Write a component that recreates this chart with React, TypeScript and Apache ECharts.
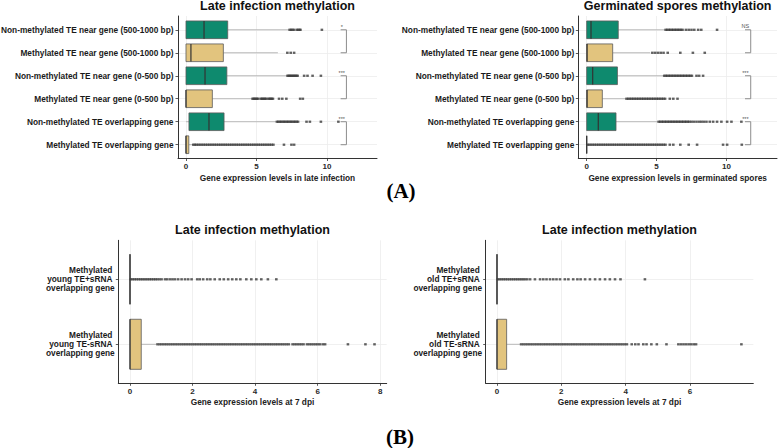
import React, { useEffect, useRef } from "react";
import * as echarts from "echarts";

// ---------------- data ----------------
const lateCategories = [
  "Non-methylated TE near gene (500-1000 bp)",
  "Methylated TE near gene (500-1000 bp)",
  "Non-methylated TE near gene (0-500 bp)",
  "Methylated TE near gene (0-500 bp)",
  "Non-methylated TE overlapping gene",
  "Methylated TE overlapping gene",
];
const sporeCategories = [
  "Non-methylated TE near gene (500-1000 bp)",
  "Methylated TE near gene (500-1000 bp)",
  "Non-methylated TE near gene (0-500 bp)",
  "Methylated TE near gene (0-500 bp)",
  "Non-methylated TE overlapping gene",
  "Methylated TE overlapping gene",
];
const youngCategories = [
  "Methylated\u00a0\nyoung TE+sRNA\u00a0\noverlapping gene",
  "Methylated\u00a0\nyoung TE-sRNA\u00a0\noverlapping gene",
];
const oldCategories = [
  "Methylated\u00a0\nold TE+sRNA\u00a0\noverlapping gene",
  "Methylated\u00a0\nold TE-sRNA\u00a0\noverlapping gene",
];

// box statistics: [q1, median, q3, lower whisker, upper whisker]
const lateStats = [
  [0, 1.28, 2.96, 0, 7.3],
  [0, 0.35, 2.65, 0, 6.52],
  [0, 1.35, 2.9, 0, 7.15],
  [0, 0, 1.87, 0, 4.66],
  [0.21, 1.63, 2.7, 0, 6.43],
  [0, 0, 0.2, 0, 0.5],
];
const sporeStats = [
  [0, 0.31, 2.26, 0, 5.6],
  [0, 0.03, 1.86, 0, 4.55],
  [0, 0.43, 2.2, 0, 5.5],
  [0, 0.03, 1.12, 0, 2.8],
  [0, 0.83, 2.1, 0, 5.1],
  [0, 0, 0, 0, 0],
];
const youngStats = [
  [0, 0, 0, 0, 0],
  [0, 0, 0.36, 0, 0.85],
];
const oldStats = [
  [0, 0, 0, 0, 0],
  [0, 0, 0.3, 0, 0.72],
];

// outliers per row
const lateOutliers = [
  [7.35, 7.45, 7.55, 7.65, 7.85, 7.95, 8.05, 8.12, 9.64],
  [7.19, 7.43, 7.67],
  [7.2, 7.28, 7.36, 7.44, 7.52, 7.6, 7.68, 7.76, 7.84, 7.92, 8.38, 8.62, 8.98, 9.57],
  [4.72, 4.8, 4.88, 4.96, 5.04, 5.12, 5.3, 5.38, 5.46, 5.54, 5.62, 5.7, 5.85, 5.93, 6.01, 6.09, 6.17, 6.6, 6.83, 7.12, 8.1, 8.29],
  [6.45, 6.55, 6.65, 6.75, 6.85, 6.95, 7.05, 7.15, 7.25, 7.35, 7.45, 7.55, 7.65, 7.75, 7.85, 7.95, 8.55, 8.79, 9.57, 10.81],
  [0.52, 0.63, 0.74, 0.87, 1.0, 1.13, 1.26, 1.39, 1.52, 1.65, 1.78, 1.91, 2.04, 2.17, 2.3, 2.43, 2.56, 2.69, 2.82, 2.95, 3.08, 3.21, 3.34, 3.47, 3.6, 3.73, 3.86, 3.99, 4.12, 4.25, 4.38, 4.51, 4.64, 4.77, 4.9, 5.03, 5.16, 5.29, 5.42, 5.55, 5.68, 5.81, 5.94, 6.07, 6.2, 6.95, 7.48, 7.67],
];
const sporeOutliers = [
  [5.65, 5.76, 5.87, 5.98, 6.09, 6.2, 6.31, 6.42, 6.53, 6.64, 6.75, 6.86, 7.1, 7.3, 7.5, 7.7, 7.98, 8.2, 9.33],
  [4.7, 4.9, 5.1, 5.3, 5.5, 5.8, 6.7, 7.6, 8.45],
  [5.55, 5.66, 5.77, 5.88, 5.99, 6.1, 6.21, 6.32, 6.43, 6.54, 6.65, 6.76, 6.87, 6.98, 7.09, 7.2, 7.31, 7.42, 7.53, 7.86, 8.05, 8.33],
  [2.85, 2.97, 3.09, 3.21, 3.33, 3.45, 3.57, 3.69, 3.81, 3.93, 4.05, 4.17, 4.29, 4.41, 4.53, 4.65, 4.77, 4.89, 5.01, 5.13, 5.25, 5.37, 5.49, 5.61, 5.95, 6.2, 6.5],
  [5.15, 5.26, 5.37, 5.48, 5.59, 5.7, 5.81, 5.92, 6.03, 6.14, 6.25, 6.36, 6.47, 6.58, 6.69, 6.8, 6.91, 7.02, 7.13, 7.24, 7.35, 7.5, 7.67, 7.86, 8.05, 8.21, 8.38, 8.57, 8.81, 9.05, 9.33, 9.64, 10.05, 10.36, 11.07],
  [0.05, 0.18, 0.31, 0.44, 0.57, 0.7, 0.83, 0.96, 1.09, 1.22, 1.35, 1.48, 1.61, 1.74, 1.87, 2.0, 2.13, 2.26, 2.39, 2.52, 2.65, 2.78, 2.91, 3.04, 3.17, 3.3, 3.43, 3.56, 3.69, 3.82, 3.95, 4.08, 4.21, 4.34, 4.47, 4.6, 4.73, 4.86, 4.99, 5.12, 5.25, 5.38, 5.51, 5.64, 5.95, 6.2, 6.7, 7.3, 7.9, 9.76, 10.05, 11.1],
];
const youngOutliers = [
  [0.03, 0.09, 0.15, 0.21, 0.27, 0.33, 0.39, 0.45, 0.51, 0.57, 0.63, 0.69, 0.75, 0.81, 0.87, 0.94, 1.01, 1.12, 1.19, 1.28, 1.36, 1.44, 1.54, 1.65, 1.76, 1.86, 1.97, 2.15, 2.23, 2.34, 2.47, 2.57, 2.71, 2.87, 3.0, 3.14, 3.27, 3.4, 3.53, 3.72, 3.88, 4.04, 4.2, 4.41, 4.68],
  [0.88, 0.95, 1.02, 1.09, 1.16, 1.23, 1.3, 1.37, 1.44, 1.51, 1.58, 1.65, 1.72, 1.79, 1.86, 1.93, 2.0, 2.07, 2.14, 2.21, 2.28, 2.35, 2.42, 2.49, 2.56, 2.63, 2.7, 2.77, 2.84, 2.91, 2.98, 3.05, 3.12, 3.19, 3.26, 3.33, 3.4, 3.47, 3.54, 3.61, 3.68, 3.75, 3.82, 3.89, 3.96, 4.03, 4.1, 4.17, 4.24, 4.31, 4.38, 4.45, 4.52, 4.59, 4.66, 4.73, 4.8, 4.87, 4.94, 5.01, 5.08, 5.2, 5.27, 5.34, 5.41, 5.48, 5.55, 5.66, 5.73, 5.8, 5.87, 5.94, 6.01, 6.08, 6.17, 6.24, 6.97, 7.53, 7.82],
];
const oldOutliers = [
  [0.03, 0.09, 0.15, 0.21, 0.27, 0.33, 0.39, 0.45, 0.51, 0.57, 0.63, 0.69, 0.75, 0.81, 0.87, 0.94, 1.03, 1.18, 1.34, 1.44, 1.54, 1.65, 1.75, 1.85, 1.96, 2.11, 2.22, 2.37, 2.5, 2.6, 2.74, 2.89, 3.05, 3.2, 3.36, 3.51, 3.67, 3.84, 4.6],
  [0.75, 0.82, 0.89, 0.96, 1.03, 1.1, 1.17, 1.24, 1.31, 1.38, 1.45, 1.52, 1.59, 1.66, 1.73, 1.8, 1.87, 1.94, 2.01, 2.08, 2.15, 2.22, 2.29, 2.36, 2.43, 2.5, 2.57, 2.64, 2.71, 2.78, 2.85, 2.92, 2.99, 3.06, 3.13, 3.2, 3.27, 3.34, 3.41, 3.48, 3.55, 3.62, 3.69, 3.76, 3.83, 3.9, 3.97, 4.04, 4.19, 4.3, 4.4, 4.55, 4.65, 4.8, 4.97, 5.27, 5.64, 5.72, 5.8, 5.88, 5.96, 6.04, 6.12, 6.19, 7.6],
];

// significance brackets: [rowA, rowB] pairs and labels
const latePairs = [[0, 1], [2, 3], [4, 5]];
const lateSigLabels = ["*", "***", "***"];
const lateBracketX = [10.97, 11.38, 11.05]; // tick start, bracket line, label
const sporePairs = [[0, 1], [2, 3], [4, 5]];
const sporeSigLabels = ["NS", "***", "***"];
const sporeBracketX = [11.33, 11.74, 11.36];

// tick labels
const lateTicks = [0, 5, 10];
const sporeTicks = [0, 5, 10];
const youngTicks = [0, 2, 4, 6, 8];
const oldTicks = [0, 2, 4, 6];

// ---------------- styling ----------------
const FONT = '"Liberation Sans", Arial, Helvetica, sans-serif';
const TEAL = "#0E8A6E";
const TAN = "#E2C47E";
const GRID_COLOR = "#ececec";
const BOX_HALF = 0.385;

type Panel = {
  cats: string[];
  stats: number[][];
  outliers: number[][];
  ticks: number[];
  xmin: number;
  xmax: number;
  grid: { left: number; top: number; width: number; height: number };
  title: string;
  xName: string;
  labelMargin: number;
  tickMargin: number;
  pairs?: number[][];
  sigLabels?: string[];
  bracketX?: number[];
};

const panels: Panel[] = [
  {
    cats: lateCategories, stats: lateStats, outliers: lateOutliers, ticks: lateTicks,
    xmin: -0.567, xmax: 13.55,
    grid: { left: 178, top: 16, width: 199, height: 142.5 },
    title: "Late infection methylation",
    xName: "Gene expression levels in late infection",
    labelMargin: 4.5, tickMargin: 3.5,
    pairs: latePairs, sigLabels: lateSigLabels, bracketX: lateBracketX,
  },
  {
    cats: sporeCategories, stats: sporeStats, outliers: sporeOutliers, ticks: sporeTicks,
    xmin: -0.6, xmax: 13.62,
    grid: { left: 578.3, top: 16, width: 198.7, height: 142.5 },
    title: "Germinated spores methylation",
    xName: "Gene expression levels in germinated spores",
    labelMargin: 4, tickMargin: 3.5,
    pairs: sporePairs, sigLabels: sporeSigLabels, bracketX: sporeBracketX,
  },
  {
    cats: youngCategories, stats: youngStats, outliers: youngOutliers, ticks: youngTicks,
    xmin: -0.374, xmax: 8.21,
    grid: { left: 118.3, top: 240.3, width: 268.4, height: 143 },
    title: "Late infection methylation",
    xName: "Gene expression levels at 7 dpi",
    labelMargin: 3.6, tickMargin: 4.5,
  },
  {
    cats: oldCategories, stats: oldStats, outliers: oldOutliers, ticks: oldTicks,
    xmin: -0.351, xmax: 7.97,
    grid: { left: 485.7, top: 240.3, width: 267.6, height: 143 },
    title: "Late infection methylation",
    xName: "Gene expression levels at 7 dpi",
    labelMargin: 3.6, tickMargin: 4.5,
  },
];

function buildOption() {
  const grids: any[] = [];
  const xAxes: any[] = [];
  const yAxes: any[] = [];
  const series: any[] = [];
  const graphics: any[] = [];

  panels.forEach((p, i) => {
    const rows = p.cats.map((_, k) => k);
    grids.push({ ...p.grid, containLabel: false, outerBoundsMode: "none" });
    xAxes.push({
      gridIndex: i,
      type: "value",
      min: p.xmin,
      max: p.xmax,
      axisLine: { show: true, onZero: false, lineStyle: { color: "#333", width: 1 } },
      axisTick: { show: true, length: 2.5, customValues: p.ticks, lineStyle: { color: "#333", width: 0.8 } },
      axisLabel: {
        customValues: p.ticks, margin: p.tickMargin, fontSize: 8, fontWeight: "bold",
        color: "#2a2a2a", fontFamily: FONT,
      },
      splitLine: { show: true, lineStyle: { color: GRID_COLOR, width: 0.8 } },
      name: p.xName,
      nameLocation: "middle",
      nameGap: 15,
      nameTextStyle: { fontSize: 8.3, fontWeight: "bold", color: "#222", fontFamily: FONT },
    });
    yAxes.push({
      gridIndex: i,
      type: "value",
      min: -0.6,
      max: p.cats.length - 0.4,
      inverse: true,
      axisLine: { show: true, onZero: false, lineStyle: { color: "#333", width: 1 } },
      axisTick: { show: true, length: 2.5, customValues: rows, lineStyle: { color: "#333", width: 0.8 } },
      axisLabel: {
        customValues: rows,
        formatter: (v: number) => p.cats[Math.round(v)] ?? "",
        margin: p.labelMargin, fontSize: 8.3, fontWeight: "bold", color: "#1a1a1a",
        fontFamily: FONT, lineHeight: 9, align: "right",
      },
      splitLine: { show: true, lineStyle: { color: GRID_COLOR, width: 0.8 } },
    });

    const cats = p.cats;
    series.push({
      type: "custom",
      xAxisIndex: i,
      yAxisIndex: i,
      silent: true,
      encode: { x: [1, 2, 3, 4, 5], y: 0 },
      data: p.stats.map((s, k) => [k, ...s]),
      renderItem: (params: any, api: any) => {
        const row = api.value(0);
        const q1 = api.coord([api.value(1), row]);
        const med = api.coord([api.value(2), row]);
        const q3 = api.coord([api.value(3), row]);
        const lo = api.coord([api.value(4), row]);
        const hi = api.coord([api.value(5), row]);
        const h = Math.abs(api.coord([api.value(1), row + BOX_HALF])[1] - q1[1]);
        const fill = cats[params.dataIndex].startsWith("Non") ? TEAL : TAN;
        const y = q1[1];
        return {
          type: "group",
          children: [
            { type: "line", shape: { x1: lo[0], y1: y, x2: q1[0], y2: y }, style: { stroke: "#b9b9b9", lineWidth: 1 } },
            { type: "line", shape: { x1: q3[0], y1: y, x2: hi[0], y2: y }, style: { stroke: "#b9b9b9", lineWidth: 1 } },
            {
              type: "rect",
              shape: { x: q1[0], y: y - h, width: q3[0] - q1[0], height: 2 * h },
              style: { fill, stroke: "#5a5a5a", lineWidth: 0.8 },
            },
            { type: "line", shape: { x1: med[0], y1: y - h, x2: med[0], y2: y + h }, style: { stroke: "#333", lineWidth: 1.2 } },
          ],
        };
      },
      z: 2,
    });

    series.push({
      type: "scatter",
      xAxisIndex: i,
      yAxisIndex: i,
      silent: true,
      symbol: "rect",
      symbolSize: [2.6, 2.3],
      itemStyle: { color: "#3a3a3a" },
      data: p.outliers.flatMap((arr, k) => arr.map((v) => [v, k])),
      z: 3,
    });

    if (p.pairs && p.sigLabels && p.bracketX) {
      const labels = p.sigLabels;
      const bx = p.bracketX;
      series.push({
        type: "custom",
        xAxisIndex: i,
        yAxisIndex: i,
        silent: true,
        encode: { x: [2, 3, 4], y: [0, 1] },
        data: p.pairs.map((pr) => [pr[0], pr[1], bx[0], bx[1], bx[2]]),
        renderItem: (params: any, api: any) => {
          const a = api.value(0);
          const b = api.value(1);
          const ta = api.coord([api.value(2), a]);
          const tb = api.coord([api.value(2), b]);
          const xb = api.coord([api.value(3), a])[0];
          const lx = api.coord([api.value(4), a])[0];
          const txt = labels[params.dataIndex];
          return {
            type: "group",
            children: [
              {
                type: "polyline",
                shape: { points: [[ta[0], ta[1]], [xb, ta[1]], [xb, tb[1]], [tb[0], tb[1]]] },
                style: { stroke: "#8c8c8c", lineWidth: 1, fill: null },
              },
              {
                type: "text",
                x: lx,
                y: ta[1] - (txt === "NS" ? 3.5 : 3),
                style: {
                  text: txt, fill: "#555", fontSize: 5.5, fontFamily: FONT,
                  align: "center", verticalAlign: "middle",
                },
              },
            ],
          };
        },
        z: 4,
      });
    }

    graphics.push({
      type: "text",
      x: p.grid.left + p.grid.width / 2,
      y: p.grid.top - 10,
      style: {
        text: p.title, fill: "#111", fontSize: 12.5, fontWeight: "bold", fontFamily: FONT,
        align: "center", verticalAlign: "middle",
      },
    });
  });

  graphics.push({
    type: "text", x: 401, y: 191,
    style: { text: "(A)", fill: "#000", fontSize: 21, fontWeight: "bold", fontFamily: '"Liberation Serif", "Times New Roman", serif', align: "center", verticalAlign: "middle" },
  });
  graphics.push({
    type: "text", x: 400, y: 437,
    style: { text: "(B)", fill: "#000", fontSize: 21, fontWeight: "bold", fontFamily: '"Liberation Serif", "Times New Roman", serif', align: "center", verticalAlign: "middle" },
  });

  return {
    animation: false,
    backgroundColor: "#ffffff",
    grid: grids,
    xAxis: xAxes,
    yAxis: yAxes,
    series,
    graphic: graphics,
  };
}

export default function App() {
  const ref = useRef<HTMLDivElement>(null);
  useEffect(() => {
    if (!ref.current) return;
    const chart = echarts.init(ref.current, undefined, { renderer: "svg" });
    chart.setOption(buildOption() as any);
    return () => chart.dispose();
  }, []);
  return (
    <div
      ref={ref}
      style={{ position: "fixed", left: 0, top: 0, width: 778, height: 448, background: "#fff" }}
    />
  );
}
